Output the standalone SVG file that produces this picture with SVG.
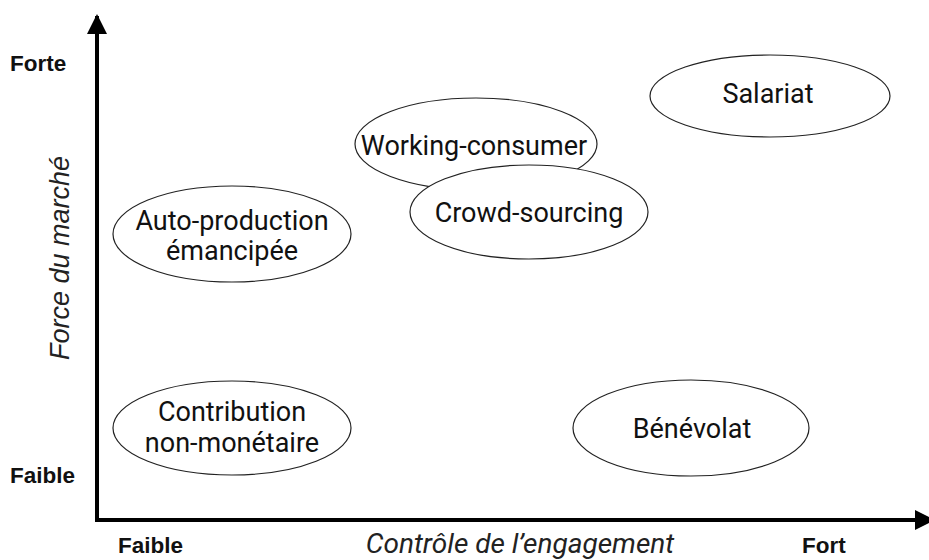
<svg xmlns="http://www.w3.org/2000/svg" width="929" height="560" viewBox="0 0 929 560">
<style>
.n ellipse{fill:#fff;stroke:#222;stroke-width:1.2}
.n text{font-family:Roboto,"Liberation Sans",sans-serif;font-size:27px;fill:#111;text-anchor:middle}
.b{font-family:"Liberation Sans",Arial,sans-serif;font-weight:bold;font-size:22.5px;fill:#111}
.i{font-family:Roboto,"Liberation Sans",sans-serif;font-style:italic;font-size:28px;fill:#222;text-anchor:middle}
.iv{font-family:"Liberation Sans",Arial,sans-serif;font-style:italic;font-size:27px;fill:#222;text-anchor:middle}
</style>
<defs>
<marker id="ah" viewBox="0 0 10 10" refX="9" refY="5" markerWidth="5" markerHeight="5" orient="auto" markerUnits="strokeWidth">
<path d="M0,0 L10,5 L0,10 z" fill="#000"/>
</marker>
</defs>
<rect width="929" height="560" fill="#fff"/>
<g id="axes" stroke="#000" stroke-width="4" fill="none">
<path d="M97,522 L97,16" marker-end="url(#ah)"/>
<path d="M95,520 L933,520" marker-end="url(#ah)"/>
</g>
<g id="labels">
<text class="b" x="10" y="71">Forte</text>
<text class="b" x="10" y="483">Faible</text>
<text class="b" x="118" y="553">Faible</text>
<text class="b" x="802" y="553">Fort</text>
<text class="i" x="520" y="553">Contrôle de l’engagement</text>
<text class="iv" transform="translate(69,258) rotate(-90)">Force du marché</text>
</g>
<g id="salariat" class="n"><ellipse cx="770" cy="96" rx="120" ry="41"/><text x="768" y="103">Salariat</text></g>
<g id="working-consumer" class="n"><ellipse cx="476" cy="144" rx="121" ry="46"/><text x="474" y="155">Working-consumer</text></g>
<g id="crowd-sourcing" class="n"><ellipse cx="529" cy="212" rx="119" ry="47"/><text x="529" y="222">Crowd-sourcing</text></g>
<g id="auto-production" class="n"><ellipse cx="232" cy="234" rx="119" ry="48"/><text x="232" y="230">Auto-production</text><text x="232" y="260">émancipée</text></g>
<g id="contribution" class="n"><ellipse cx="232" cy="428" rx="119" ry="47"/><text x="232" y="421">Contribution</text><text x="232" y="452">non-monétaire</text></g>
<g id="benevolat" class="n"><ellipse cx="691" cy="428" rx="118" ry="48"/><text x="692" y="438">Bénévolat</text></g>
</svg>
